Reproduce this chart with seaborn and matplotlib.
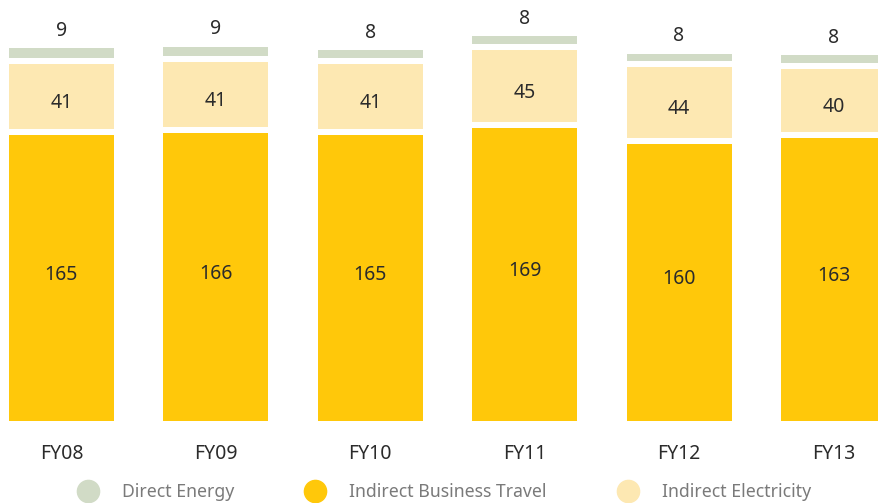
import pandas as pd
import matplotlib
matplotlib.use('Agg')
import matplotlib.pyplot as plt
from matplotlib.lines import Line2D
import seaborn as sns

# values
years = ['FY08', 'FY09', 'FY10', 'FY11', 'FY12', 'FY13']
direct_energy = [9, 9, 8, 8, 8, 8]
business_travel = [165, 166, 165, 169, 160, 163]
electricity = [41, 41, 41, 45, 44, 40]

series_names = ['Direct Energy', 'Indirect Business Travel', 'Indirect Electricity']
series_colors = ['#D1DBC6', '#FFC80A', '#FDE8B2']

sns.set_theme(style='white')
plt.rcParams['font.family'] = ['Noto Sans', 'DejaVu Sans']

df = pd.DataFrame({
    'year': years,
    'direct': direct_energy,
    'travel': business_travel,
    'elec': electricity,
})
gap = 3.5  # white gap between stacked segments (data units)
df['elec_bottom'] = df['travel'] + gap
df['elec_height'] = df['elec'] - gap
df['direct_bottom'] = df['travel'] + df['elec'] + gap
df['direct_height'] = df['direct'] - gap
df['total'] = df['travel'] + df['elec'] + df['direct']

fig = plt.figure(figsize=(8.79, 5.03), dpi=100)
ax = fig.add_axes([0, 0, 1, 1])

bar_kw = dict(x='year', saturation=1, width=0.68, errorbar=None, linewidth=0, ax=ax)
sns.barplot(data=df, y='travel', color=series_colors[1], **bar_kw)
sns.barplot(data=df, y='elec_height', bottom=df['elec_bottom'], color=series_colors[2], **bar_kw)
sns.barplot(data=df, y='direct_height', bottom=df['direct_bottom'], color=series_colors[0], **bar_kw)

text_color = '#2b2b2b'
for i, row in df.iterrows():
    ax.text(i, row['travel'] / 2 + 2, str(row['travel']), ha='center', va='center',
            fontsize=14, color=text_color)
    ax.text(i, row['travel'] + row['elec'] / 2 - 2, str(row['elec']), ha='center', va='center',
            fontsize=14, color=text_color)
    ax.text(i, row['total'] + 10, str(row['direct']), ha='center', va='center',
            fontsize=14, color=text_color)
    ax.text(i, -19, row['year'], ha='center', va='center', fontsize=14, color=text_color)

ax.set_xlim(-0.398, 5.295)
ax.set_ylim(-47.3, 242.9)
ax.set_axis_off()

handles = [Line2D([], [], marker='o', linestyle='', markersize=16,
                  markerfacecolor=c, markeredgecolor=c) for c in series_colors]
fig.legend(handles, series_names, loc='center left', bbox_to_anchor=(0.087, 0.022),
           ncol=3, frameon=False, fontsize=12.7, labelcolor='#7a7a7a',
           handlelength=1.3, handletextpad=1.28, columnspacing=3.95, borderpad=0,
           borderaxespad=0)

fig.savefig('out.png', dpi=100)
